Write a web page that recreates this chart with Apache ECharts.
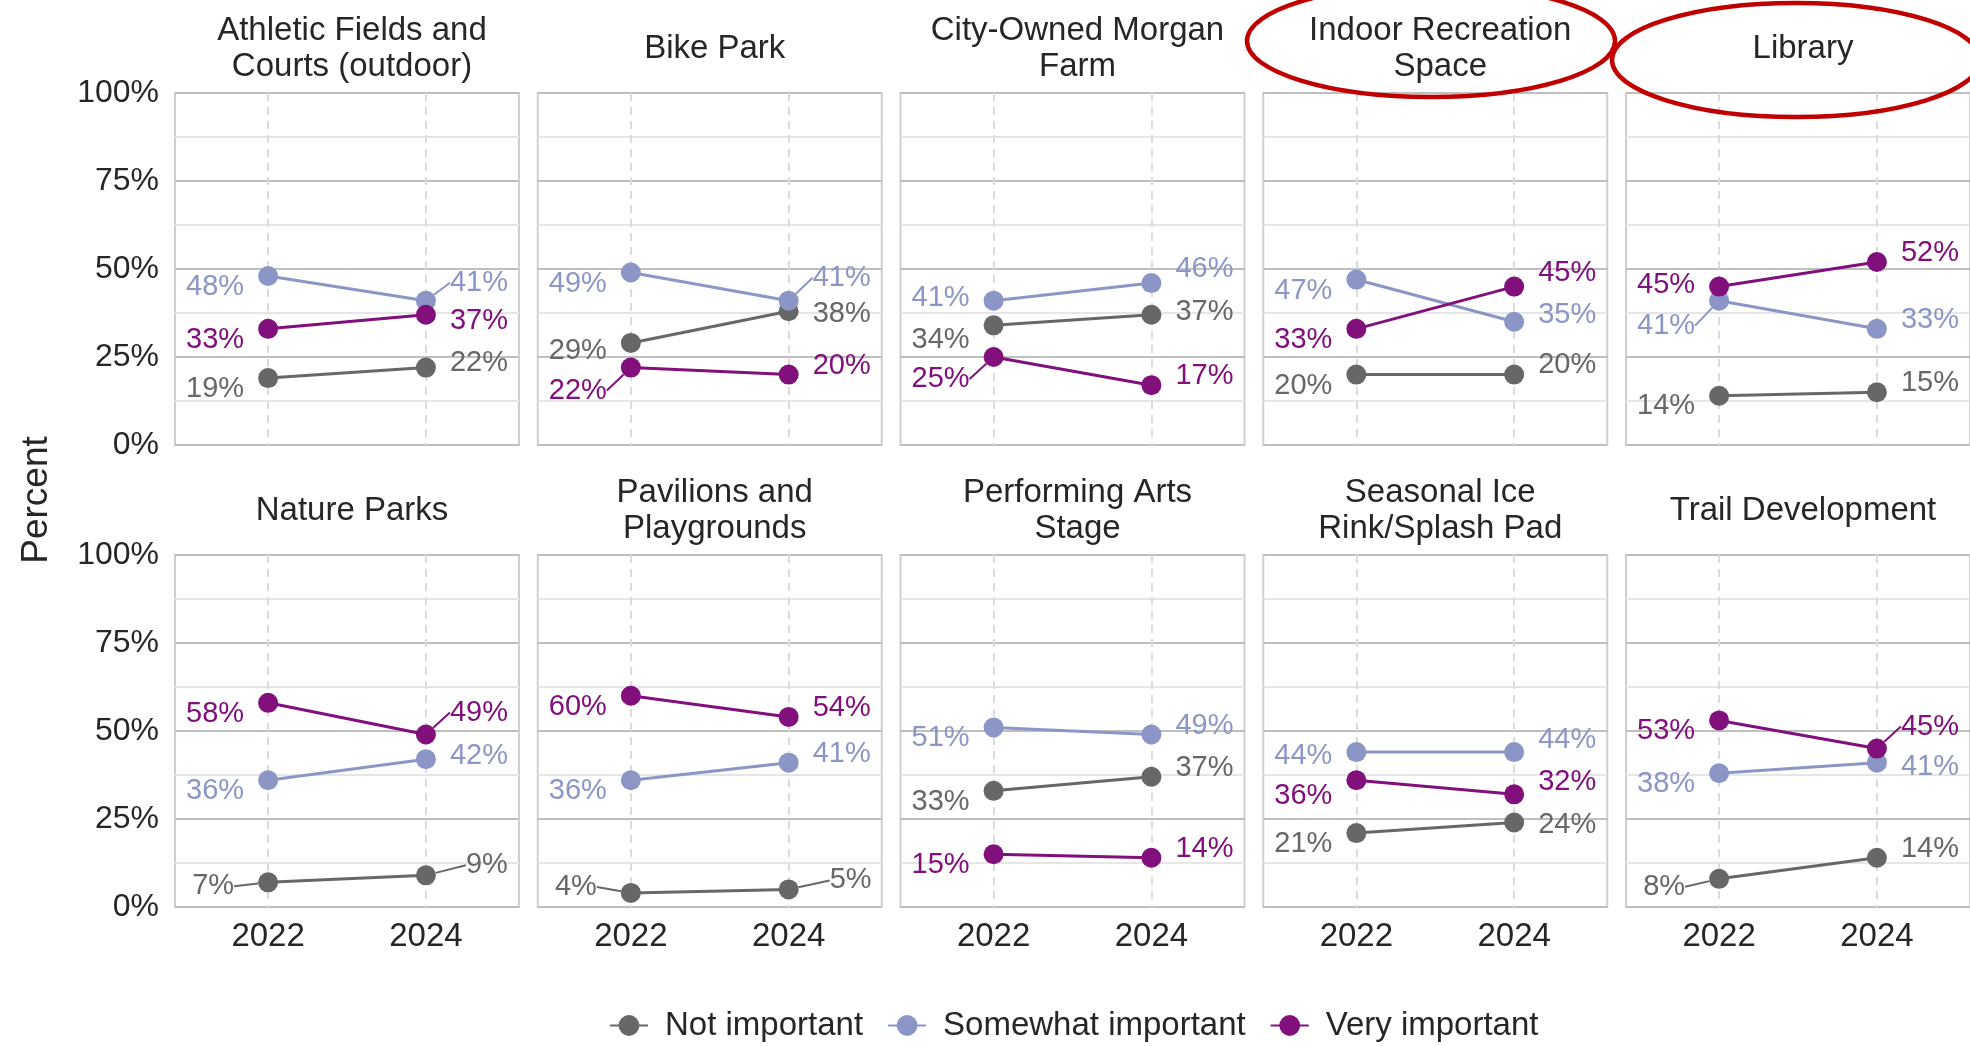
<!DOCTYPE html>
<html>
<head>
<meta charset="utf-8">
<script src="https://cdn.jsdelivr.net/npm/echarts@6/dist/echarts.min.js"></script>
<style>
  html, body { margin: 0; padding: 0; background: #fff; }
  #chart { width: 1970px; height: 1046px; }
</style>
</head>
<body>
<div id="chart"></div>
<script>
// facet titles, in panel order (row by row)
const facets = [
  'Athletic Fields and\nCourts (outdoor)', 'Bike Park', 'City-Owned Morgan\nFarm',
  'Indoor Recreation\nSpace', 'Library',
  'Nature Parks', 'Pavilions and\nPlaygrounds', 'Performing Arts\nStage',
  'Seasonal Ice\nRink/Splash Pad', 'Trail Development'
];
const years = [2022, 2024];
const seriesNames = ['Not important', 'Somewhat important', 'Very important'];

// percent per facet: [2022, 2024]
const notImportant = [[19, 22], [29, 38], [34, 37], [20, 20], [14, 15], [7, 9], [4, 5], [33, 37], [21, 24], [8, 14]];
const somewhatImportant = [[48, 41], [49, 41], [41, 46], [47, 35], [41, 33], [36, 42], [36, 41], [51, 49], [44, 44], [38, 41]];
const veryImportant = [[33, 37], [22, 20], [25, 17], [33, 45], [45, 52], [58, 49], [60, 54], [15, 14], [36, 32], [53, 45]];

const yTicks = [0, 25, 50, 75, 100];

const colors = ['#676767', '#8c96c6', '#810f7c'];
const FONT = '"Liberation Sans", Arial, sans-serif';
const TEXT = '#262626';

// label nudges (dx, dy, segment) like ggrepel put them, key = facet-series-year
const nudges = {
  '0-1-1': [0, -18, 1], '0-2-1': [0, 6], '0-0-1': [0, -5],
  '1-0-0': [0, 8], '1-2-0': [0, 23, 1], '1-1-1': [0, -23, 1], '1-0-1': [0, 3],
  '2-1-0': [0, -3], '2-0-0': [0, 15], '2-2-0': [0, 22, 1], '2-1-1': [0, -14], '2-0-1': [0, -3],
  '3-2-1': [0, -14], '3-1-1': [0, -7], '3-0-1': [0, -10],
  '4-2-0': [0, -2], '4-1-0': [0, 25, 1], '4-0-0': [0, 10],
  '5-0-0': [-10, 4, 1], '5-2-1': [0, -22, 1], '5-1-1': [0, -3], '5-0-1': [16, -10, 1],
  '6-0-0': [-10, -6, 1], '6-0-1': [17, -9, 1],
  '8-1-0': [0, 4], '8-2-0': [0, 16], '8-1-1': [0, -12], '8-2-1': [0, -12], '8-0-1': [0, 2],
  '9-0-0': [-10, 8, 1], '9-2-1': [0, -22, 1], '9-1-1': [0, 4]
};
function nudge(f, s, y) {
  return nudges[f + '-' + s + '-' + y] || (y === 0 ? [0, 11] : [0, -9]);
}

const panelW = 344, panelH = 352, colStep = 362.75;
const rowTop = [93, 555];

const grids = [], xAxes = [], yAxes = [], titles = [], series = [];
const seriesData = [notImportant, somewhatImportant, veryImportant];

facets.forEach((name, f) => {
  const col = f % 5, row = Math.floor(f / 5);
  const left = 175 + col * colStep;
  const top = rowTop[row];
  grids.push({
    left: left, top: top, width: panelW, height: panelH,
    show: true, borderColor: '#cfcfcf', borderWidth: 2, backgroundColor: 'transparent'
  });
  xAxes.push({
    gridIndex: f, type: 'value', min: 2020.82, max: 2025.18,
    axisLine: { show: false },
    axisTick: { show: false, customValues: years },
    axisLabel: {
      show: row === 1, customValues: years, formatter: v => String(v),
      fontSize: 33, color: TEXT, fontFamily: FONT, margin: 13
    },
    splitLine: { show: true, lineStyle: { color: '#dcdcdc', width: 2, type: [8, 6] } }
  });
  yAxes.push({
    gridIndex: f, type: 'value', min: yTicks[0], max: yTicks[yTicks.length - 1], interval: 25,
    axisLine: { show: false }, axisTick: { show: false },
    axisLabel: {
      show: col === 0, formatter: '{value}%', fontSize: 32, color: TEXT, fontFamily: FONT, margin: 16
    },
    splitLine: { lineStyle: { color: '#bfbfbf', width: 2 } },
    minorTick: { show: false, splitNumber: 2 },
    minorSplitLine: { show: true, lineStyle: { color: '#e6e6e6', width: 2 } }
  });
  const lines = name.split('\n').length;
  titles.push({
    text: name, left: left + panelW / 2, textAlign: 'center',
    top: top - 49 - lines * 36 / 2,
    textStyle: { fontSize: 33, fontWeight: 'normal', color: TEXT, fontFamily: FONT, lineHeight: 36 }
  });

  seriesData.forEach((arr, s) => {
    series.push({
      name: seriesNames[s], type: 'line', xAxisIndex: f, yAxisIndex: f,
      symbol: 'circle', symbolSize: 20, z: 3 + s,
      lineStyle: { color: colors[s], width: 3 },
      itemStyle: { color: colors[s] },
      data: arr[f].map((v, i) => ({
        value: [years[i], v],
        label: { position: i === 0 ? 'left' : 'right' },
        labelLine: { show: !!nudge(f, s, i)[2] }
      })),
      label: {
        show: true, distance: 14, formatter: p => p.value[1] + '%',
        fontSize: 29, color: colors[s], fontFamily: FONT
      },
      labelLine: { lineStyle: { width: 2, color: colors[s] } },
      labelLayout: p => {
        const n = nudge(f, s, p.dataIndex);
        return { dx: n[0], dy: n[1] };
      }
    });
  });
});

const chart = echarts.init(document.getElementById('chart'));
chart.setOption({
  animation: false,
  backgroundColor: '#fff',
  title: titles,
  grid: grids,
  xAxis: xAxes,
  yAxis: yAxes,
  legend: {
    data: seriesNames, left: 604, top: 1004,
    itemWidth: 38, itemHeight: 26, itemGap: 24,
    textStyle: { fontSize: 33, color: TEXT, fontFamily: FONT, padding: [0, 0, 0, 12] }
  },
  graphic: [
    {
      type: 'text', x: 37, y: 500, rotation: Math.PI / 2,
      style: { text: 'Percent', fill: TEXT, font: '37px ' + FONT, textAlign: 'center', textVerticalAlign: 'middle' }
    },
    {
      type: 'ellipse', shape: { cx: 1431, cy: 41, rx: 184, ry: 56 },
      style: { fill: 'none', stroke: '#c00000', lineWidth: 4.5 }, z: 100
    },
    {
      type: 'ellipse', shape: { cx: 1796, cy: 60, rx: 184, ry: 57 },
      style: { fill: 'none', stroke: '#c00000', lineWidth: 4.5 }, z: 100
    }
  ],
  series: series
});
</script>
</body>
</html>
